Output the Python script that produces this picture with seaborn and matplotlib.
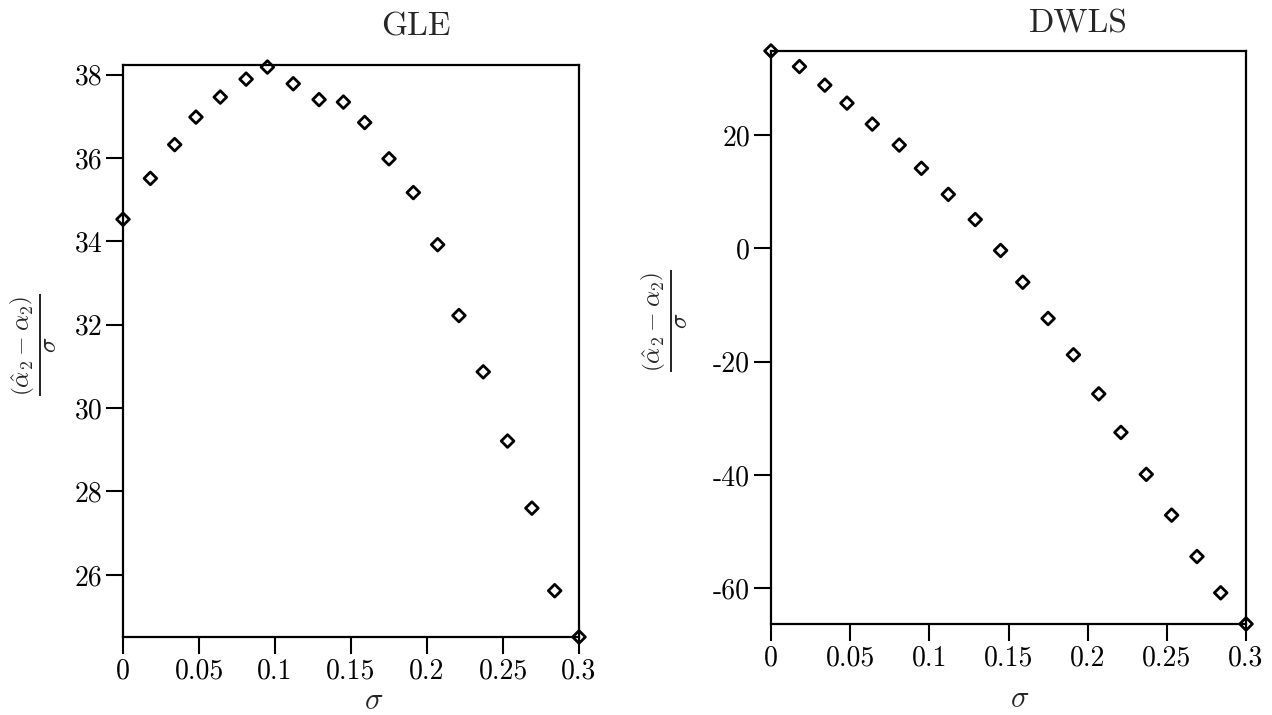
import matplotlib
matplotlib.use("Agg")
import matplotlib.pyplot as plt
import seaborn as sns
import pandas as pd

sigma = [0, 0.018, 0.034, 0.048, 0.064, 0.081, 0.095, 0.112, 0.129, 0.145,
         0.159, 0.175, 0.191, 0.207, 0.221, 0.237, 0.253, 0.269, 0.284, 0.3]
gle = [34.53, 35.51, 36.32, 36.98, 37.46, 37.89, 38.18, 37.78, 37.40, 37.34,
       36.85, 35.98, 35.17, 33.92, 32.22, 30.87, 29.21, 27.60, 25.62, 24.51]
dwls = [34.8, 32.05, 28.77, 25.6, 21.9, 18.2, 14.1, 9.5, 5.05, -0.4,
        -6.0, -12.4, -18.8, -25.7, -32.5, -39.9, -47.1, -54.4, -60.8, -66.3]

xticks = [0, 0.05, 0.1, 0.15, 0.2, 0.25, 0.3]
xtick_labels = ["0", "0.05", "0.1", "0.15", "0.2", "0.25", "0.3"]
gle_yticks = [26, 28, 30, 32, 34, 36, 38]
dwls_yticks = [-60, -40, -20, 0, 20]

sns.set_theme(style="ticks")
plt.rcParams["font.family"] = ["cmr10", "DejaVu Serif"]
plt.rcParams["mathtext.fontset"] = "cm"
plt.rcParams["axes.unicode_minus"] = False
plt.rcParams["axes.formatter.use_mathtext"] = True

fig = plt.figure(figsize=(12.72, 7.15), dpi=100)
ax1 = fig.add_axes([0.0967, 0.1091, 0.3585, 0.800])
ax2 = fig.add_axes([0.6061, 0.1273, 0.3735, 0.8014])

df1 = pd.DataFrame({"sigma": sigma, "val": gle})
df2 = pd.DataFrame({"sigma": sigma, "val": dwls})

ylab = r"$\frac{\left(\hat{\alpha}_2-\alpha_2\right)}{\sigma}$"

specs = [
    (ax1, df1, gle_yticks, (24.51, 38.23), "GLE", 0.643, 1.066, (-0.14, 0.51), (0.55, -0.088)),
    (ax2, df2, dwls_yticks, (-66.3, 34.8), "DWLS", 0.648, 1.047, (-0.17, 0.53), (0.524, -0.108)),
]

for ax, df, yt, ylim, title, tx, ty, ylc, xlc in specs:
    sns.scatterplot(data=df, x="sigma", y="val", ax=ax, marker="D", s=42,
                    facecolor="none", edgecolor="black", linewidth=2.0,
                    clip_on=False, zorder=5)
    ax.set_xlim(0, 0.3)
    ax.set_ylim(*ylim)
    ax.set_xticks(xticks)
    ax.set_xticklabels(xtick_labels)
    ax.set_yticks(yt)
    ax.set_yticklabels([str(v) for v in yt])
    ax.tick_params(axis="both", direction="out", length=12, width=1.5,
                   labelsize=20, pad=3, colors="black")
    for sp in ax.spines.values():
        sp.set_visible(True)
        sp.set_linewidth(1.6)
        sp.set_color("black")
    ax.set_xlabel(r"$\sigma$", fontsize=22)
    ax.xaxis.set_label_coords(*xlc)
    ax.set_ylabel(ylab, fontsize=26)
    ax.yaxis.set_label_coords(*ylc)
    ax.text(tx, ty, title, transform=ax.transAxes, ha="center", va="center",
            fontsize=24)

fig.savefig("out.png", dpi=100)
